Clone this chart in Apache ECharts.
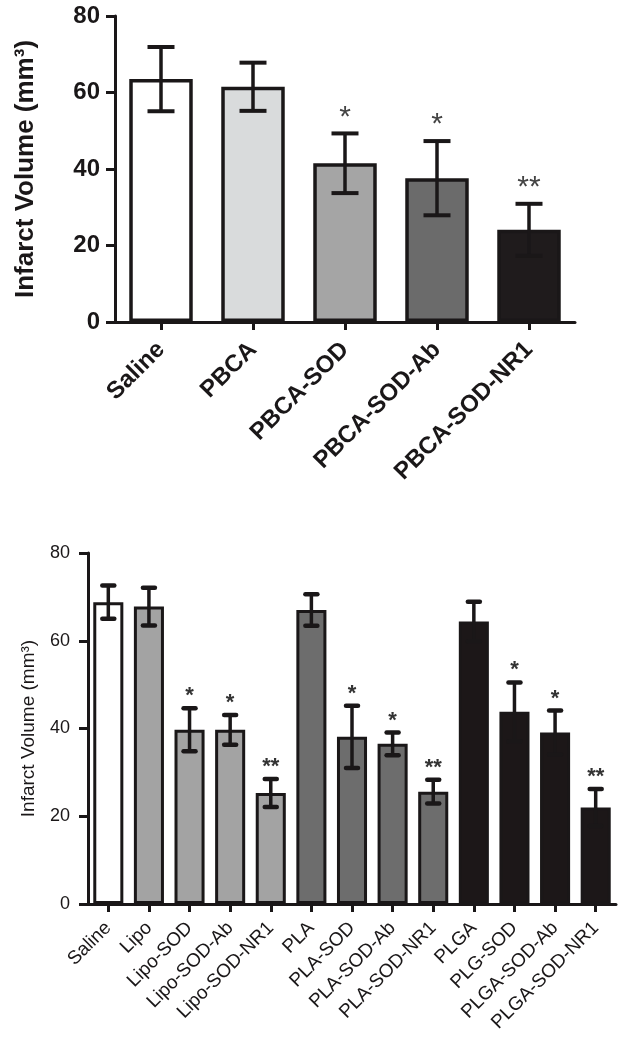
<!DOCTYPE html>
<html>
<head>
<meta charset="utf-8">
<script src="https://cdn.jsdelivr.net/npm/echarts@6/dist/echarts.min.js"></script>
<style>
html,body{margin:0;padding:0;background:#fff;}
#main{width:621px;height:1050px;}
</style>
</head>
<body>
<div id="main"></div>
<script>
// ---- data ----
const topCategories = ['Saline', 'PBCA', 'PBCA-SOD', 'PBCA-SOD-Ab', 'PBCA-SOD-NR1'];
const topMeans = [63.5, 61.5, 41.5, 37.6, 24.1];
const topErrors = [8.4, 6.3, 7.8, 9.7, 6.8];
const topSignif = ['', '', '*', '*', '**'];

const bottomCategories = ['Saline', 'Lipo', 'Lipo-SOD', 'Lipo-SOD-Ab', 'Lipo-SOD-NR1',
  'PLA', 'PLA-SOD', 'PLA-SOD-Ab', 'PLA-SOD-NR1',
  'PLGA', 'PLG-SOD', 'PLGA-SOD-Ab', 'PLGA-SOD-NR1'];
const bottomMeans = [68.8, 67.8, 39.7, 39.7, 25.3, 67.0, 38.1, 36.5, 25.6, 64.4, 43.8, 39.1, 22.0];
const bottomErrors = [3.8, 4.3, 4.9, 3.4, 3.2, 3.6, 7.1, 2.6, 2.7, 4.5, 6.7, 5.0, 4.2];
const bottomSignif = ['', '', '*', '*', '**', '', '*', '*', '**', '', '*', '*', '**'];

const yTicks = [0, 20, 40, 60, 80];
const yAxisTitle = 'Infarct Volume (mm³)';

// ---- styles ----
const FONT = '"Liberation Sans", Arial, Helvetica, sans-serif';
const INK = '#1a1718';
const topFills = ['#ffffff', '#d9dbdc', '#a5a5a5', '#6b6b6b', '#1f1b1c'];
const bottomFills = ['#ffffff', '#a3a3a3', '#a3a3a3', '#a3a3a3', '#a3a3a3',
  '#6d6d6d', '#6d6d6d', '#6d6d6d', '#6d6d6d',
  '#1c1718', '#1c1718', '#1c1718', '#1c1718'];

function errRenderer(signif, o) {
  return function (params, api) {
    const i = api.value(0), m = api.value(1), e = api.value(2);
    const hi = api.coord([i, m + e]);
    const lo = api.coord([i, m - e]);
    const x = hi[0];
    const st = { stroke: INK, lineWidth: o.lw };
    const cs = { stroke: INK, lineWidth: o.capW, lineCap: o.capRound ? 'round' : 'butt' };
    const children = [
      { type: 'line', shape: { x1: x, y1: hi[1], x2: x, y2: lo[1] }, style: st },
      { type: 'line', shape: { x1: x - o.cap, y1: hi[1], x2: x + o.cap, y2: hi[1] }, style: cs },
      { type: 'line', shape: { x1: x - o.cap, y1: lo[1], x2: x + o.cap, y2: lo[1] }, style: cs }
    ];
    const s = signif[params.dataIndex];
    if (s) {
      children.push({
        type: 'text', x: x, y: hi[1] - o.starGap,
        style: { text: s, fill: o.starColor, font: o.starFont, align: 'center', verticalAlign: 'middle' }
      });
    }
    return { type: 'group', children: children };
  };
}

function yAxisCfg(gridIndex, fontSize, nameSize, bold, nameGap, margin) {
  return {
    type: 'value', gridIndex: gridIndex, min: 0, max: 80, interval: 20,
    name: yAxisTitle, nameLocation: 'middle', nameGap: nameGap,
    nameTextStyle: { fontFamily: FONT, fontSize: nameSize, fontWeight: bold ? 'bold' : 'normal', color: INK },
    axisLine: { show: true, lineStyle: { color: INK, width: 3 } },
    axisTick: { show: true, length: 9, lineStyle: { color: INK, width: 3 } },
    splitLine: { show: false },
    axisLabel: {
      margin: margin, fontFamily: FONT, fontSize: fontSize, fontWeight: bold ? 'bold' : 'normal', color: INK,
      formatter: function (v) { return yTicks.indexOf(v) >= 0 ? String(v) : ''; }
    }
  };
}

function xAxisCfg(gridIndex, cats, fontSize, bold, margin) {
  return {
    type: 'category', gridIndex: gridIndex, data: cats,
    axisLine: { show: true, lineStyle: { color: INK, width: 3 } },
    axisTick: { show: true, alignWithLabel: true, length: 8, lineStyle: { color: INK, width: 3 } },
    axisLabel: {
      interval: 0, rotate: 45, margin: margin, fontFamily: FONT, fontSize: fontSize,
      fontWeight: bold ? 'bold' : 'normal', color: INK
    }
  };
}

const chart = echarts.init(document.getElementById('main'), null, { renderer: 'canvas' });
chart.setOption({
  animation: false,
  backgroundColor: '#ffffff',
  grid: [
    { left: 115, top: 16, width: 460, height: 306 },
    { left: 88, top: 553, width: 528, height: 351 }
  ],
  xAxis: [
    xAxisCfg(0, topCategories, 24, true, 24),
    xAxisCfg(1, bottomCategories, 19, false, 21)
  ],
  yAxis: [
    yAxisCfg(0, 24, 26, true, 76, 15),
    yAxisCfg(1, 18, 19, false, 50, 18)
  ],
  series: [
    {
      type: 'bar', xAxisIndex: 0, yAxisIndex: 0, barWidth: '69%',
      data: topMeans.map(function (v, i) {
        return { value: v, itemStyle: { color: topFills[i] } };
      }),
      itemStyle: { borderColor: INK, borderWidth: 3.5 }
    },
    {
      type: 'custom', xAxisIndex: 0, yAxisIndex: 0, z: 5,
      data: topMeans.map(function (v, i) { return [i, v, topErrors[i]]; }),
      renderItem: errRenderer(topSignif, {
        lw: 3.5, capW: 4, cap: 13.5, capRound: false, starGap: 16,
        starColor: '#444', starFont: 'normal 30px ' + FONT
      })
    },
    {
      type: 'bar', xAxisIndex: 1, yAxisIndex: 1, barWidth: '74%',
      data: bottomMeans.map(function (v, i) {
        return { value: v, itemStyle: { color: bottomFills[i] } };
      }),
      itemStyle: { borderColor: INK, borderWidth: 3 }
    },
    {
      type: 'custom', xAxisIndex: 1, yAxisIndex: 1, z: 5,
      data: bottomMeans.map(function (v, i) { return [i, v, bottomErrors[i]]; }),
      renderItem: errRenderer(bottomSignif, {
        lw: 3.5, capW: 4.5, cap: 6, capRound: true, starGap: 12,
        starColor: '#333', starFont: 'bold 22px ' + FONT
      })
    }
  ]
});
</script>
</body>
</html>
